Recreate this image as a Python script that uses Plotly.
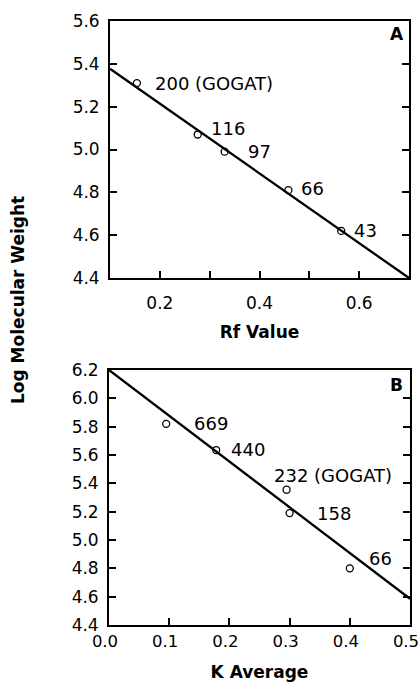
import plotly.graph_objects as go

# ---- Panel A data (SDS gel) ----
rf_value = [0.154, 0.276, 0.330, 0.458, 0.564]
log_mw_a = [5.31, 5.07, 4.99, 4.81, 4.62]
labels_a = ["200 (GOGAT)", "116", "97", "66", "43"]
fit_a_x = [0.10, 0.70]
fit_a_y = [5.377, 4.40]
xticks_a = [0.2, 0.3, 0.4, 0.5, 0.6]
xticktext_a = ["0.2", "", "0.4", "", "0.6"]
yticks_a = [4.4, 4.6, 4.8, 5.0, 5.2, 5.4, 5.6]

# ---- Panel B data (gel filtration) ----
k_average = [0.095, 0.178, 0.295, 0.300, 0.400]
log_mw_b = [5.82, 5.635, 5.355, 5.19, 4.80]
labels_b = ["669", "440", "232 (GOGAT)", "158", "66"]
fit_b_x = [0.0, 0.5]
fit_b_y = [6.2, 4.585]
xticks_b = [0.0, 0.1, 0.2, 0.3, 0.4, 0.5]
yticks_b = [4.4, 4.6, 4.8, 5.0, 5.2, 5.4, 5.6, 5.8, 6.0, 6.2]

# label offsets (pixels) - style only
shift_a = [(16, 0), (11, 6), (21, 0), (11, 2), (11, 0)]
shift_b = [(26, 0), (13, 1), (-15, 14), (25, 0), (17, 10)]

FONT = "DejaVu Sans"
fig = go.Figure()

marker = dict(symbol="circle-open", size=7, color="black", line=dict(width=1.3, color="black"))

fig.add_trace(go.Scatter(x=fit_a_x, y=fit_a_y, mode="lines", line=dict(color="black", width=2.3),
                         xaxis="x", yaxis="y", showlegend=False, hoverinfo="skip"))
fig.add_trace(go.Scatter(x=rf_value, y=log_mw_a, mode="markers", marker=marker,
                         xaxis="x", yaxis="y", showlegend=False))
fig.add_trace(go.Scatter(x=fit_b_x, y=fit_b_y, mode="lines", line=dict(color="black", width=2.3),
                         xaxis="x2", yaxis="y2", showlegend=False, hoverinfo="skip"))
fig.add_trace(go.Scatter(x=k_average, y=log_mw_b, mode="markers", marker=marker,
                         xaxis="x2", yaxis="y2", showlegend=False))

annotations = []
for x, y, t, (dx, dy) in zip(rf_value, log_mw_a, labels_a, shift_a):
    annotations.append(dict(x=x, y=y, xref="x", yref="y", text=t, showarrow=False,
                            xanchor="left", yanchor="middle", xshift=dx, yshift=dy,
                            font=dict(family=FONT, size=18, color="black")))
for x, y, t, (dx, dy) in zip(k_average, log_mw_b, labels_b, shift_b):
    annotations.append(dict(x=x, y=y, xref="x2", yref="y2", text=t, showarrow=False,
                            xanchor="left", yanchor="middle", xshift=dx, yshift=dy,
                            font=dict(family=FONT, size=18, color="black")))

annotations.append(dict(x=0.99, y=0.995, xref="x domain", yref="y domain", text="<b>A</b>",
                        showarrow=False, xanchor="right", yanchor="top",
                        font=dict(family=FONT, size=17, color="black")))
annotations.append(dict(x=0.985, y=0.99, xref="x2 domain", yref="y2 domain", text="<b>B</b>",
                        showarrow=False, xanchor="right", yanchor="top",
                        font=dict(family=FONT, size=17, color="black")))
annotations.append(dict(x=18 / 420, y=1 - 300 / 683, xref="paper", yref="paper",
                        text="<b>Log Molecular Weight</b>", textangle=-90, showarrow=False,
                        xanchor="center", yanchor="middle",
                        font=dict(family=FONT, size=17, color="black")))

axis_common = dict(showline=True, linecolor="black", linewidth=1.8, mirror=True,
                   ticks="inside", ticklen=7, tickwidth=1.5, tickcolor="black",
                   showgrid=False, zeroline=False, automargin=False,
                   ticklabeloverflow="allow",
                   tickfont=dict(family=FONT, size=17, color="black"))

fig.update_layout(
    width=420, height=683,
    margin=dict(l=0, r=0, t=0, b=0),
    paper_bgcolor="white", plot_bgcolor="white",
    annotations=annotations,
    xaxis=dict(domain=[110 / 420, 409 / 420], range=[0.1, 0.7], anchor="y",
               tickvals=xticks_a, ticktext=xticktext_a, ticklabelstandoff=9,
               title=dict(text="<b>Rf Value</b>", font=dict(family=FONT, size=17, color="black"), standoff=14),
               **axis_common),
    yaxis=dict(domain=[1 - 278 / 683, 1 - 21 / 683], range=[4.4, 5.6], anchor="x",
               tickvals=yticks_a, tickformat=".1f", ticklabelstandoff=5,
               **{**axis_common, "mirror": "ticks"}),
    xaxis2=dict(domain=[109 / 420, 410 / 420], range=[0.0, 0.5], anchor="y2",
                tickvals=xticks_b, tickformat=".1f", ticklabelstandoff=0, ticklabelshift=-4,
                title=dict(text="<b>K Average</b>", font=dict(family=FONT, size=17, color="black"), standoff=16),
                **{**axis_common, "tickfont": dict(family=FONT, size=16.5, color="black")}),
    yaxis2=dict(domain=[1 - 625 / 683, 1 - 370 / 683], range=[4.4, 6.2], anchor="x2",
                tickvals=yticks_b, tickformat=".1f", ticklabelstandoff=5,
                **{**axis_common, "mirror": "ticks"}),
)

fig.write_html("out.html")
